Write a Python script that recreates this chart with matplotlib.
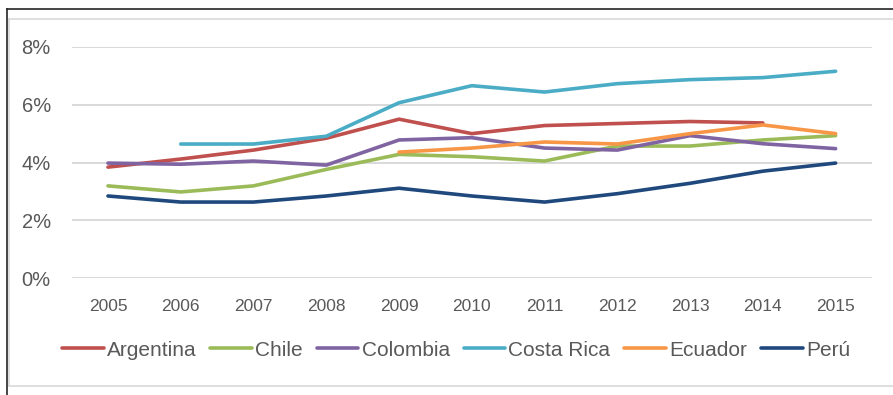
import numpy as np
import matplotlib
matplotlib.use("Agg")
import matplotlib.pyplot as plt
from matplotlib.lines import Line2D
from matplotlib.ticker import FuncFormatter

years = ["2005", "2006", "2007", "2008", "2009", "2010", "2011", "2012", "2013", "2014", "2015"]
nan = np.nan
argentina = [3.84, 4.12, 4.43, 4.84, 5.50, 5.00, 5.28, 5.35, 5.42, 5.37, nan]
chile = [3.19, 2.98, 3.19, 3.76, 4.28, 4.20, 4.05, 4.57, 4.57, 4.78, 4.93]
colombia = [3.98, 3.94, 4.05, 3.91, 4.78, 4.86, 4.50, 4.43, 4.93, 4.65, 4.48]
costa_rica = [nan, 4.64, 4.64, 4.91, 6.07, 6.66, 6.44, 6.73, 6.87, 6.94, 7.16]
ecuador = [nan, nan, nan, nan, 4.36, 4.50, 4.71, 4.64, 5.00, 5.30, 5.00]
peru = [2.84, 2.63, 2.63, 2.84, 3.11, 2.84, 2.63, 2.92, 3.28, 3.70, 3.98]

series = [
    ("Argentina", argentina, "#C0504D"),
    ("Chile", chile, "#9BBB59"),
    ("Colombia", colombia, "#8064A2"),
    ("Costa Rica", costa_rica, "#4BACC6"),
    ("Ecuador", ecuador, "#F79646"),
    ("Perú", peru, "#1F497D"),
]

plt.rcParams['font.family'] = ['Liberation Sans', 'DejaVu Sans']

fig = plt.figure(figsize=(8.93, 3.95), dpi=100)
ax = fig.add_axes([71.6 / 893, 1 - 278 / 395, (872 - 71.6) / 893, (278 - 47) / 395])

x = np.arange(len(years))
for name, vals, col in series:
    ax.plot(x, vals, color=col, lw=2.6, label=name, solid_capstyle='round')

ax.set_xlim(-0.5, len(years) - 0.5)
ax.set_ylim(0, 8)
ax.set_yticks([0, 2, 4, 6, 8])
ax.yaxis.set_major_formatter(FuncFormatter(lambda v, p: f"{int(v)}%"))
ax.set_xticks(x)
ax.set_xticklabels(years)
ax.grid(axis='y', color='#D9D9D9', lw=1.4)
ax.set_axisbelow(True)
for s in ax.spines.values():
    s.set_visible(False)
ax.tick_params(axis='both', length=0, colors='#595959')
ax.tick_params(axis='y', labelsize=14.5, pad=15)
ax.tick_params(axis='x', labelsize=12.5, pad=15)

leg = fig.legend(loc='center', bbox_to_anchor=(456 / 893, 1 - 350 / 395), ncol=6,
                 frameon=False, fontsize=15, handlelength=2.0, handletextpad=0.15,
                 columnspacing=0.67)
for t in leg.get_texts():
    t.set_color('#595959')

# frame lines
W, H = 893, 395
def fl(x0, y0, x1, y1, c, lw):
    fig.add_artist(Line2D([x0 / W, x1 / W], [1 - y0 / H, 1 - y1 / H], color=c, lw=lw,
                          transform=fig.transFigure))
fl(7, 9, W, 9, '#262626', 1.2)
fl(7, 9, 7, H, '#262626', 1.2)
fl(9, 19, W, 19, '#D9D9D9', 1.2)
fl(9, 19, 9, 386, '#D9D9D9', 1.2)
fl(9, 386, W, 386, '#D9D9D9', 1.2)

fig.savefig("out.png", dpi=100)
